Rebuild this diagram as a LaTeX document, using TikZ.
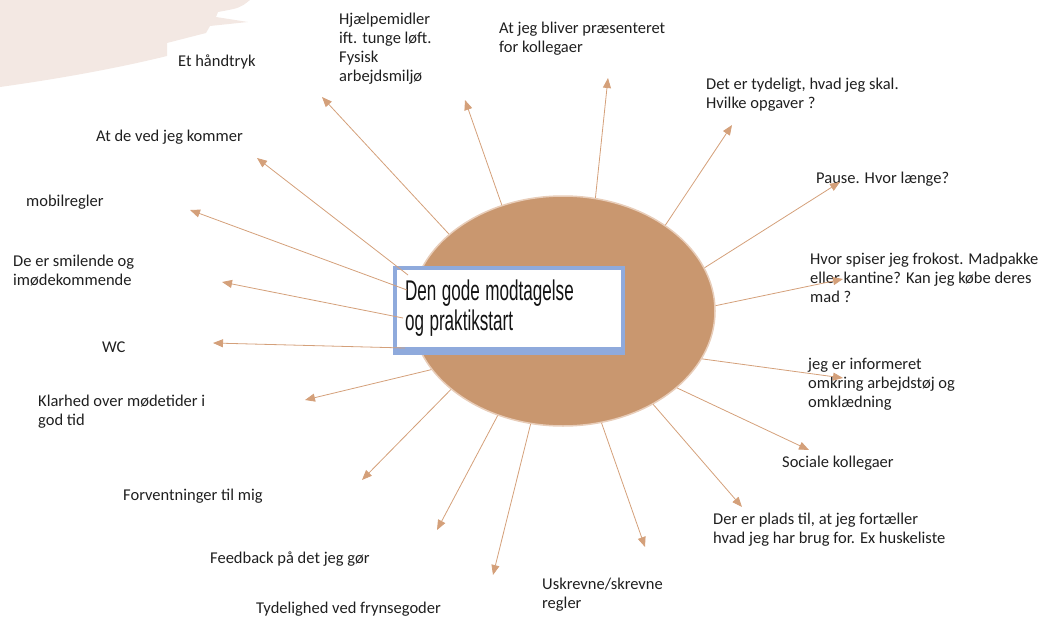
\documentclass[tikz,border=0pt]{standalone}
\usepackage{fontspec}
\setmainfont{Carlito}
\newfontfamily\titlefont[FakeStretch=0.6]{Liberation Sans}
\usetikzlibrary{arrows.meta,shapes.geometric}
\definecolor{ellfill}{RGB}{201,151,111}
\definecolor{ellrim}{RGB}{232,205,185}
\definecolor{arrowc}{RGB}{212,160,122}
\definecolor{boxblue}{RGB}{143,170,220}
\definecolor{brush}{RGB}{243,232,227}
\tikzset{
  lbl/.style={anchor=north west, inner sep=0pt, align=left, text=black!88,
    font=\fontsize{16.5}{19.3}\selectfont},
  ray/.style={draw=arrowc, line width=0.8pt, -{Triangle[length=10pt,width=8pt]}},
  hubstyle/.style={ellipse, fill=ellfill, draw=ellrim, line width=1.5pt,
    minimum width=304pt, minimum height=230pt, inner sep=0pt},
  titlebox/.style={draw=boxblue, line width=2pt, fill=white, minimum width=226pt,
    minimum height=79pt, text width=208pt, inner xsep=9pt, align=left, text=black!92,
    font=\titlefont\fontsize{28.5}{30}\selectfont},
}
\begin{document}
\begin{tikzpicture}[x=1pt,y=-1pt]
\useasboundingbox (0,0) rectangle (1047,618);
% brush stroke
\fill[brush] (0,0) -- (250,0) .. controls (240,8) .. (218,12) -- (216,17) -- (248,22)
  -- (210,26) -- (206,33) -- (167,43) -- (167,56) .. controls (110,70) and (50,80) .. (0,87) -- cycle;
% hub
\node[hubstyle] (hub) at (563,311) {};
% title box with shadow
\fill[boxblue] (393,266) rectangle (625,355);
\node[titlebox] (title) at (509,308.5) {\spaceskip=5.5pt\relax Den gode modtagelse\\og praktikstart};

% labels
\node[lbl] (t1)  at (178,52.35)  {\strut Et håndtryk};
\node[lbl] (t2)  at (339,10.35)  {\strut Hjælpemidler\\ift. tunge løft.\\Fysisk\\arbejdsmiljø};
\node[lbl] (t3)  at (499,19.35)  {\strut At jeg bliver præsenteret\\for kollegaer};
\node[lbl] (t4)  at (706,75.35)  {\strut Det er tydeligt, hvad jeg skal.\\Hvilke opgaver ?};
\node[lbl] (t5)  at (816,169.35) {\strut Pause. Hvor længe?};
\node[lbl] (t6)  at (810,250.35) {\strut Hvor spiser jeg frokost. Madpakke\\eller kantine? Kan jeg købe deres\\mad ?};
\node[lbl] (t7)  at (808,355.35) {\strut jeg er informeret\\omkring arbejdstøj og\\omklædning};
\node[lbl] (t8)  at (782,453.35) {\strut Sociale kollegaer};
\node[lbl] (t9)  at (713,510.35) {\strut Der er plads til, at jeg fortæller\\hvad jeg har brug for. Ex huskeliste};
\node[lbl] (t10) at (542,575.35) {\strut Uskrevne/skrevne\\regler};
\node[lbl] (t11) at (256,599.35) {\strut Tydelighed ved frynsegoder};
\node[lbl] (t12) at (210,549.35) {\strut Feedback på det jeg gør};
\node[lbl] (t13) at (123,486.35) {\strut Forventninger til mig};
\node[lbl] (t14) at (38,392.35)  {\strut Klarhed over mødetider i\\god tid};
\node[lbl] (t15) at (102,338.35) {\strut WC};
\node[lbl] (t16) at (13,252.35)  {\strut De er smilende og\\imødekommende};
\node[lbl] (t17) at (26,192.35)  {\strut mobilregler};
\node[lbl] (t18) at (96,127.35)  {\strut At de ved jeg kommer};

% arrow tips and box-side starts
\coordinate (e1) at (322,97);
\coordinate (e2) at (465,100);
\coordinate (e3) at (608,78);
\coordinate (e4) at (732,125);
\coordinate (e5) at (840,182);
\coordinate (e6) at (843,279);
\coordinate (e7) at (843,378);
\coordinate (e8) at (809,450);
\coordinate (e9) at (742,507);
\coordinate (e10) at (645,547);
\coordinate (e11) at (493,575);
\coordinate (e12) at (437,530);
\coordinate (e13) at (362,480);
\coordinate (e14) at (305,400);
\coordinate (e15) at (213,343);
\coordinate (e16) at (222,282);
\coordinate (e17) at (190,210);
\coordinate (e18) at (257,158);
\coordinate (s15) at (405,348);
\coordinate (s16) at (403,318);
\coordinate (s17) at (407,290);
\coordinate (s18) at (408,275);

% rays
\draw[ray] (hub.146) -- (e1);
\draw[ray] (hub.120.4) -- (e2);
\draw[ray] (hub.74.9) -- (e3);
\draw[ray] (hub.40.2) -- (e4);
\draw[ray] (hub.17.6) -- (e5);
\draw[ray] (hub.2.7) -- (e6);
\draw[ray] (hub.-19) -- (e7);
\draw[ray] (hub.-34) -- (e8);
\draw[ray] (hub.-46.8) -- (e9);
\draw[ray] (hub.-71.1) -- (e10);
\draw[ray] (hub.-106.8) -- (e11);
\draw[ray] (hub.-122.2) -- (e12);
\draw[ray] (hub.-145.7) -- (e13);
\draw[ray] (hub.-156.1) -- (e14);
\draw[ray] (s15) -- (e15);
\draw[ray] (s16) -- (e16);
\draw[ray] (s17) -- (e17);
\draw[ray] (s18) -- (e18);
\end{tikzpicture}
\end{document}
